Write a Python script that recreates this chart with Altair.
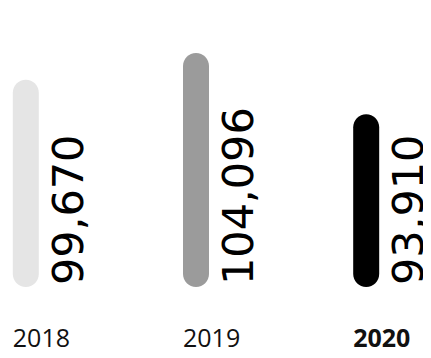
import altair as alt
import pandas as pd

years = ["2018", "2019", "2020"]
values = [99670, 104096, 93910]
colors = ["#e5e5e5", "#9b9b9b", "#000000"]
Y_MIN = 65200
Y_MAX = 111600

df = pd.DataFrame({"year": years, "value": values, "color": colors})
df["base"] = Y_MIN

x = alt.X(
    "year:N",
    sort=years,
    scale=alt.Scale(paddingInner=0.8472, paddingOuter=0.0282),
    axis=alt.Axis(
        title=None,
        domain=False,
        ticks=False,
        labelAngle=0,
        labelAlign="left",
        labelOffset=-13,
        labelPadding=39,
        labelFont="Open Sans",
        labelFontSize=25,
        labelColor="#111111",
        labelFontWeight=alt.ExprRef("datum.value == '2020' ? 'bold' : 'normal'"),
    ),
)

yscale = alt.Scale(domain=[Y_MIN, Y_MAX], zero=False, nice=False)

bars = alt.Chart(df).mark_bar(cornerRadius=13).encode(
    x=x,
    y=alt.Y("value:Q", scale=yscale, axis=None),
    y2="base:Q",
    color=alt.Color("color:N", scale=None),
)

labels = alt.Chart(df).mark_text(
    angle=270,
    align="left",
    baseline="alphabetic",
    dy=57,
    dx=2,
    font="DejaVu Sans",
    fontSize=43,
    color="#000000",
).encode(
    x=alt.X("year:N", sort=years),
    y=alt.Y("base:Q", scale=yscale, axis=None),
    text=alt.Text("value:Q", format=",d"),
)

chart = (
    alt.layer(bars, labels)
    .properties(
        width=376,
        height=279,
        autosize=alt.AutoSizeParams(type="none"),
        padding={"left": 0, "top": 0, "right": 39, "bottom": 63},
    )
    .configure_view(stroke=None)
)

chart.save("out.html", embed_options={"renderer": "svg", "actions": False})
